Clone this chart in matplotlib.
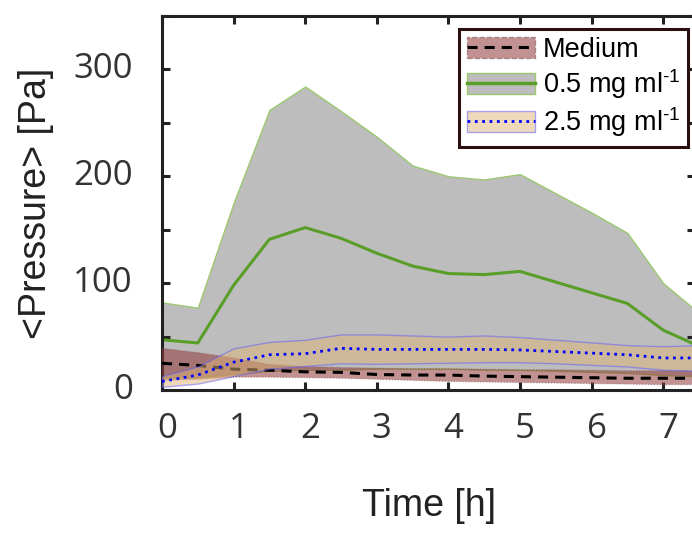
import matplotlib
matplotlib.use("Agg")
import matplotlib.pyplot as plt
from matplotlib.patches import Patch
from matplotlib.lines import Line2D
from matplotlib.ticker import MultipleLocator
import matplotlib.transforms as mtransforms

plt.rcParams['font.family'] = ['Liberation Sans', 'DejaVu Sans']
plt.rcParams['mathtext.fontset'] = 'custom'
plt.rcParams['mathtext.rm'] = 'Liberation Sans'
plt.rcParams['mathtext.it'] = 'Liberation Sans'

# time points [h]
hours = [0, 0.5, 1, 1.5, 2, 2.5, 3, 3.5, 4, 4.5, 5, 5.5, 6, 6.5, 7, 7.5]

# 0.5 mg/ml
mg05_mean = [47, 44, 98, 141, 152, 142, 128, 116, 109, 108, 111, 101, 91, 81, 56, 41]
mg05_upper = [82, 77, 175, 262, 284, 261, 237, 210, 200, 197, 202, 184, 166, 147, 100, 72]
mg05_lower = [12, 12, 15, 18, 19, 19, 20, 20, 20, 19, 19, 18, 17, 16, 14, 13]

# medium only
medium_mean = [25, 23, 19.5, 18.5, 17, 16.5, 14.5, 14, 14, 13, 12.5, 12, 11.5, 11, 11, 11]
medium_upper = [39, 35, 30, 24, 22, 21, 20.5, 20, 20, 19.5, 19, 19, 18.5, 18, 18, 18]
medium_lower = [9, 10, 12, 12, 11.5, 11, 10, 9, 8, 7.5, 7, 6.5, 6, 5.5, 5, 5]

# 2.5 mg/ml
mg25_mean = [8, 14, 26, 33, 34, 39, 38, 38, 38, 38, 37.5, 36, 34.5, 33, 30, 30]
mg25_upper = [13, 22, 39, 45, 47, 52, 52, 51, 50, 51, 49.5, 47, 44.5, 42, 41, 42]
mg25_lower = [3, 6, 13, 20, 22.5, 25, 24.5, 25, 25.5, 26, 26, 25, 23.5, 22, 19, 18]

labels = ['Medium', r'0.5 mg ml$^{\text{-1}}$', r'2.5 mg ml$^{\text{-1}}$']

grey_fill = '#bdbdbd'
grey_edge = '#9cc870'
green = '#5a9e2a'
brown_fill = '#903838'
brown_edge = '#7a4a4a'
tan_fill = '#e0b478'
blue_edge = '#5a5aff'
dash = (3.3, 2.3)

fig = plt.figure(figsize=(6.92, 5.35), dpi=100)
ax = fig.add_axes([162 / 692, 1 - 390 / 535, 533.4 / 692, 374 / 535])

ax.fill_between(hours, mg05_lower, mg05_upper, facecolor=grey_fill,
                edgecolor=grey_edge, linewidth=1, zorder=1)
ax.plot(hours, mg05_mean, color=green, lw=2.2, zorder=2)

ax.fill_between(hours, medium_lower, medium_upper, facecolor=brown_fill, alpha=0.55,
                edgecolor=brown_edge, linewidth=0.8, linestyle=':', zorder=3)
ax.plot(hours, medium_mean, color='black', lw=2.2, dashes=dash, zorder=4)

ax.fill_between(hours, mg25_lower, mg25_upper, facecolor=tan_fill, alpha=0.5,
                edgecolor=blue_edge, linewidth=1, zorder=5)
ax.plot(hours, mg25_mean, color='blue', lw=2, linestyle=':', zorder=6)

ax.set_xlim(0, 7.45)
ax.set_ylim(0, 350)
ax.xaxis.set_major_locator(MultipleLocator(1))
ax.yaxis.set_major_locator(MultipleLocator(100))
ax.yaxis.set_minor_locator(MultipleLocator(50))

for s in ax.spines.values():
    s.set_linewidth(2.2)
    s.set_color('#222222')

ax.tick_params(which='both', direction='in', top=True, right=True,
               width=2.2, length=6, color='#222222', labelcolor='#333333')
ax.tick_params(axis='x', pad=16, labelsize=25)
ax.tick_params(axis='y', pad=21, labelsize=25)
for lab in ax.get_xticklabels() + ax.get_yticklabels():
    lab.set_fontfamily(['Open Sans', 'DejaVu Sans'])

# labels in the original sit slightly right / up of their ticks
dx = mtransforms.ScaledTranslation(5 / 100, 0, fig.dpi_scale_trans)
for lab in ax.get_xticklabels():
    lab.set_transform(lab.get_transform() + dx)
dy = mtransforms.ScaledTranslation(0, 4 / 100, fig.dpi_scale_trans)
for lab in ax.get_yticklabels():
    lab.set_transform(lab.get_transform() + dy)

ax.set_xlabel('Time [h]', fontsize=27, color='#222222', labelpad=30)
ax.set_ylabel('<Pressure> [Pa]', fontsize=27, color='#222222', labelpad=14)

h_medium = (Patch(facecolor=brown_fill, alpha=0.55, edgecolor=brown_edge,
                  linestyle='--', linewidth=1),
            Line2D([], [], color='black', lw=2.2, dashes=dash))
h_05 = (Patch(facecolor=grey_fill, edgecolor=grey_edge, linewidth=1),
        Line2D([], [], color=green, lw=2.5))
h_25 = (Patch(facecolor=tan_fill, alpha=0.5, edgecolor=blue_edge, linewidth=1),
        Line2D([], [], color='blue', lw=2, linestyle=':'))

leg = ax.legend([h_medium, h_05, h_25], labels, loc='upper right',
                bbox_to_anchor=(0.987, 0.965), borderaxespad=0,
                fontsize=19.5, handlelength=2.5, handleheight=0.8,
                handletextpad=0.3, labelspacing=0.15, borderpad=0.3,
                fancybox=False, framealpha=1, edgecolor='#2a0f0f')
leg.get_frame().set_linewidth(2.2)
leg.set_zorder(10)

fig.savefig('out.png', dpi=100)
